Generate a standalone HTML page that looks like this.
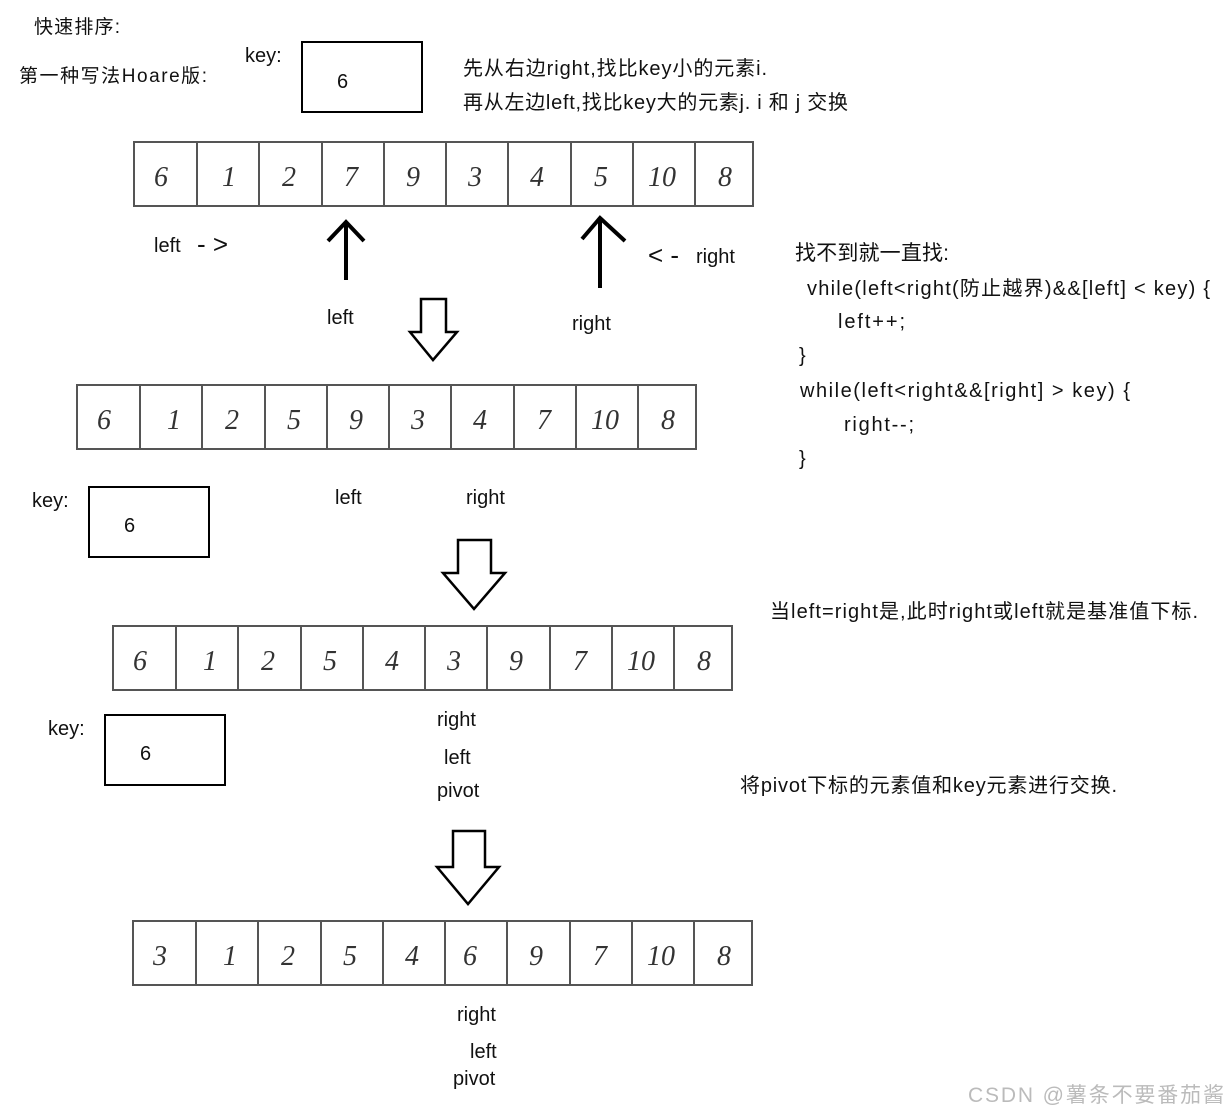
<!DOCTYPE html>
<html><head><meta charset="utf-8"><style>
body{margin:0;background:#fff;}
svg text{font-family:"Liberation Sans","Noto Sans CJK SC",sans-serif;fill:#111;}
.h{font-family:"Liberation Serif","Noto Sans CJK SC",serif;font-style:italic;font-size:28px;fill:#333;}
</style></head><body>
<svg width="1228" height="1113" xmlns="http://www.w3.org/2000/svg">
<defs>
<g id="cells" fill="none" stroke="#555" stroke-width="2">
<rect x="0" y="0" width="619" height="64"/>
<line x1="63" y1="0" x2="63" y2="64"/><line x1="125" y1="0" x2="125" y2="64"/><line x1="188" y1="0" x2="188" y2="64"/><line x1="250" y1="0" x2="250" y2="64"/><line x1="312" y1="0" x2="312" y2="64"/><line x1="374" y1="0" x2="374" y2="64"/><line x1="437" y1="0" x2="437" y2="64"/><line x1="499" y1="0" x2="499" y2="64"/><line x1="561" y1="0" x2="561" y2="64"/>
</g>
</defs>
<text x="34" y="33" font-size="19" textLength="86">快速排序:</text>
<text x="19" y="82" font-size="19" textLength="188">第一种写法Hoare版:</text>
<text x="245" y="62" font-size="20">key:</text>
<rect x="302" y="42" width="120" height="70" fill="none" stroke="#000" stroke-width="2"/>
<text x="337" y="88" font-size="20">6</text>
<text x="463" y="75" font-size="20" textLength="304">先从右边right,找比key小的元素i.</text>
<text x="463" y="109" font-size="20" textLength="385">再从左边left,找比key大的元素j. i 和 j 交换</text>

<g transform="translate(134,142)"><use href="#cells"/>
<text class="h" y="44"><tspan x="20">6</tspan><tspan x="88">1</tspan><tspan x="148">2</tspan><tspan x="210">7</tspan><tspan x="272">9</tspan><tspan x="334">3</tspan><tspan x="396">4</tspan><tspan x="460">5</tspan><tspan x="514">10</tspan><tspan x="584">8</tspan></text></g>

<text x="154" y="252" font-size="20">left</text>
<text x="197" y="253" font-size="26">- &gt;</text>
<path d="M346 280 V222 M328 241 L346 222 L364 241" stroke="#000" stroke-width="4" fill="none"/>
<path d="M600 288 V218 M582 239 L600 218 L625 241" stroke="#000" stroke-width="4" fill="none"/>
<text x="648" y="264" font-size="26">&lt; -</text>
<text x="696" y="263" font-size="20">right</text>
<text x="327" y="324" font-size="20">left</text>
<text x="572" y="330" font-size="20">right</text>
<path d="M421 299 H446 V332 H457 L433 360 L410 332 H421 Z" fill="#fff" stroke="#000" stroke-width="2.5"/>

<text x="795" y="260" font-size="21" textLength="154">找不到就一直找:</text>
<text x="807" y="295" font-size="20" textLength="403">vhile(left&lt;right(防止越界)&amp;&amp;[left] &lt; key) {</text>
<text x="838" y="328" font-size="20" textLength="67">left++;</text>
<text x="799" y="362" font-size="20">}</text>
<text x="800" y="397" font-size="20" textLength="330">while(left&lt;right&amp;&amp;[right] &gt; key) {</text>
<text x="844" y="431" font-size="20" textLength="70">right--;</text>
<text x="799" y="465" font-size="20">}</text>

<g transform="translate(77,385)"><use href="#cells"/>
<text class="h" y="44"><tspan x="20">6</tspan><tspan x="90">1</tspan><tspan x="148">2</tspan><tspan x="210">5</tspan><tspan x="272">9</tspan><tspan x="334">3</tspan><tspan x="396">4</tspan><tspan x="460">7</tspan><tspan x="514">10</tspan><tspan x="584">8</tspan></text></g>

<text x="32" y="507" font-size="20">key:</text>
<rect x="89" y="487" width="120" height="70" fill="none" stroke="#000" stroke-width="2"/>
<text x="124" y="532" font-size="20">6</text>
<text x="335" y="504" font-size="20">left</text>
<text x="466" y="504" font-size="20">right</text>
<path d="M458 540 H491 V573 H505 L474 609 L443 573 H458 Z" fill="#fff" stroke="#000" stroke-width="2.5"/>

<text x="770" y="618" font-size="20" textLength="428">当left=right是,此时right或left就是基准值下标.</text>

<g transform="translate(113,626)"><use href="#cells"/>
<text class="h" y="44"><tspan x="20">6</tspan><tspan x="90">1</tspan><tspan x="148">2</tspan><tspan x="210">5</tspan><tspan x="272">4</tspan><tspan x="334">3</tspan><tspan x="396">9</tspan><tspan x="460">7</tspan><tspan x="514">10</tspan><tspan x="584">8</tspan></text></g>

<text x="48" y="735" font-size="20">key:</text>
<rect x="105" y="715" width="120" height="70" fill="none" stroke="#000" stroke-width="2"/>
<text x="140" y="760" font-size="20">6</text>
<text x="437" y="726" font-size="20">right</text>
<text x="444" y="764" font-size="20">left</text>
<text x="437" y="797" font-size="20">pivot</text>
<text x="740" y="792" font-size="20" textLength="377">将pivot下标的元素值和key元素进行交换.</text>
<path d="M453 831 H485 V867 H499 L468 904 L437 867 H453 Z" fill="#fff" stroke="#000" stroke-width="2.5"/>

<g transform="translate(133,921)"><use href="#cells"/>
<text class="h" y="44"><tspan x="20">3</tspan><tspan x="90">1</tspan><tspan x="148">2</tspan><tspan x="210">5</tspan><tspan x="272">4</tspan><tspan x="330">6</tspan><tspan x="396">9</tspan><tspan x="460">7</tspan><tspan x="514">10</tspan><tspan x="584">8</tspan></text></g>

<text x="457" y="1021" font-size="20">right</text>
<text x="470" y="1058" font-size="20">left</text>
<text x="453" y="1085" font-size="20">pivot</text>
<text x="968" y="1102" font-size="21" textLength="256" style="fill:#bbb">CSDN @薯条不要番茄酱</text>
</svg>
</body></html>
